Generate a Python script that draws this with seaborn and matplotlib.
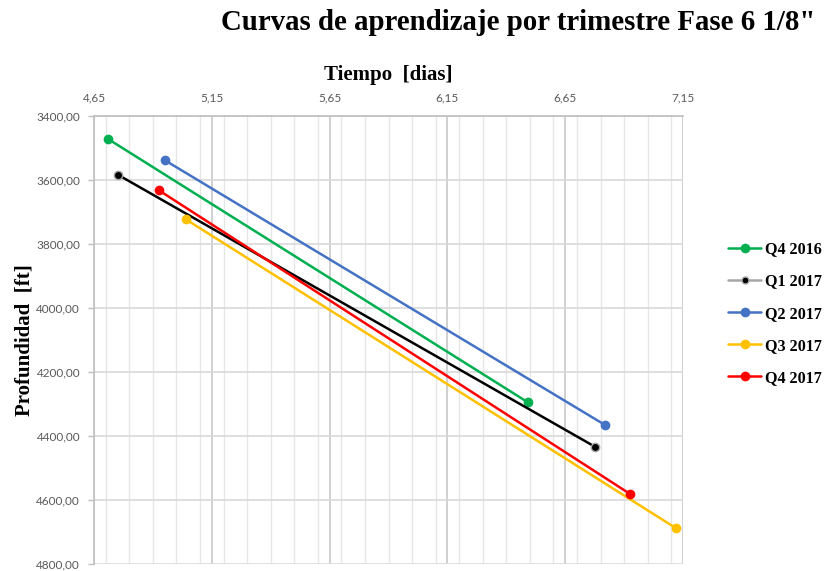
import matplotlib
matplotlib.use("Agg")
import matplotlib.pyplot as plt
from matplotlib.ticker import FixedLocator, MultipleLocator, FuncFormatter
from matplotlib.lines import Line2D
import seaborn as sns
import pandas as pd

# ---- data ----
series = ["Q4 2016", "Q1 2017", "Q2 2017", "Q3 2017", "Q4 2017"]
tiempo_inicio = [4.71, 4.75, 4.95, 5.04, 4.925]
tiempo_fin = [6.49, 6.775, 6.82, 7.12, 6.925]
prof_inicio = [3472, 3583, 3538, 3723, 3632]
prof_fin = [4294, 4433, 4366, 4688, 4581]
colors = ["#00B050", "#000000", "#4472C4", "#FFC000", "#FF0000"]
x_ticks = [4.65, 5.15, 5.65, 6.15, 6.65, 7.15]
y_ticks = [3400, 3600, 3800, 4000, 4200, 4400, 4600, 4800]

rows = []
for s, t0, t1, p0, p1 in zip(series, tiempo_inicio, tiempo_fin, prof_inicio, prof_fin):
    rows.append({"serie": s, "t": t0, "p": p0})
    rows.append({"serie": s, "t": t1, "p": p1})
df = pd.DataFrame(rows)

sns.set_theme(style="white")
plt.rcParams["font.family"] = ["Lato", "DejaVu Sans"]
plt.rcParams["text.color"] = "black"
plt.rcParams["axes.labelcolor"] = "black"

fig = plt.figure(figsize=(8.35, 5.71), dpi=100)
ax = fig.add_axes([94 / 835, 1 - 564 / 571, (683 - 94) / 835, (564 - 116) / 571])

ax.xaxis.set_minor_locator(MultipleLocator(0.1))
ax.xaxis.grid(True, which="minor", color="#E6E6E6", lw=1.0, zorder=0)
ax.xaxis.grid(True, which="major", color="#C8C8C8", lw=1.2, zorder=0)
ax.yaxis.grid(True, which="major", color="#D9D9D9", lw=1.2, zorder=0)
ax.set_axisbelow(True)

sns.lineplot(data=df, x="t", y="p", hue="serie", palette=dict(zip(series, colors)),
             marker="o", markersize=7, markeredgewidth=0, lw=1.8, sort=False,
             estimator=None, ax=ax, legend=False, zorder=3)
# smaller gray-edged markers for the black series
for line in ax.get_lines():
    if line.get_color() in ("#000000", (0.0, 0.0, 0.0, 1.0)) or line.get_color() == "k":
        line.set_markersize(6)
        line.set_markeredgecolor("#A6A6A6")
        line.set_markeredgewidth(1.0)

ax.set_xlim(x_ticks[0], x_ticks[-1])
ax.set_ylim(y_ticks[-1], y_ticks[0])
ax.xaxis.set_major_locator(FixedLocator(x_ticks))
ax.yaxis.set_major_locator(FixedLocator(y_ticks))
ax.xaxis.set_major_formatter(FuncFormatter(lambda v, p: f"{v:.2f}".replace(".", ",")))
ax.yaxis.set_major_formatter(FuncFormatter(lambda v, p: f"{v:.2f}".replace(".", ",")))
ax.xaxis.tick_top()
ax.xaxis.set_label_position("top")
ax.tick_params(axis="x", which="both", length=0, pad=9, labelsize=8.5, labelcolor="#595959")
ax.tick_params(axis="y", which="major", length=4, width=1, color="#BFBFBF", pad=6,
               labelsize=8.5, labelcolor="#595959", left=True)

for side in ["right", "bottom"]:
    ax.spines[side].set_visible(False)
for side in ["left", "top"]:
    ax.spines[side].set_color("#BFBFBF")
    ax.spines[side].set_linewidth(1.2)

serif = ["Liberation Serif", "DejaVu Serif"]
ax.set_xlabel("Tiempo  [dias]", family=serif, fontweight="bold", fontsize=15, labelpad=9)
ax.set_ylabel("Profundidad  [ft]", family=serif, fontweight="bold", fontsize=15, labelpad=1)
fig.text(815 / 835, 1 - 23 / 571, 'Curvas de aprendizaje por trimestre Fase 6 1/8"',
         ha="right", va="center", family=serif, fontweight="bold", fontsize=20.8)

handles = []
for s, c in zip(series, colors):
    if c == "#000000":
        h = Line2D([], [], color="#A6A6A6", lw=1.8, marker="o", markersize=5,
                   markerfacecolor="#000000", markeredgecolor="#A6A6A6")
    else:
        h = Line2D([], [], color=c, lw=1.8, marker="o", markersize=7,
                   markerfacecolor=c, markeredgewidth=0)
    handles.append(h)
fig.legend(handles, series, loc="upper left", bbox_to_anchor=(722 / 835, 1 - 235 / 571),
           frameon=False, prop={"family": serif, "weight": "bold", "size": 11.6},
           handlelength=2.0, handletextpad=0.25, labelspacing=1.0, borderaxespad=0)

fig.savefig("out.png", dpi=100)
